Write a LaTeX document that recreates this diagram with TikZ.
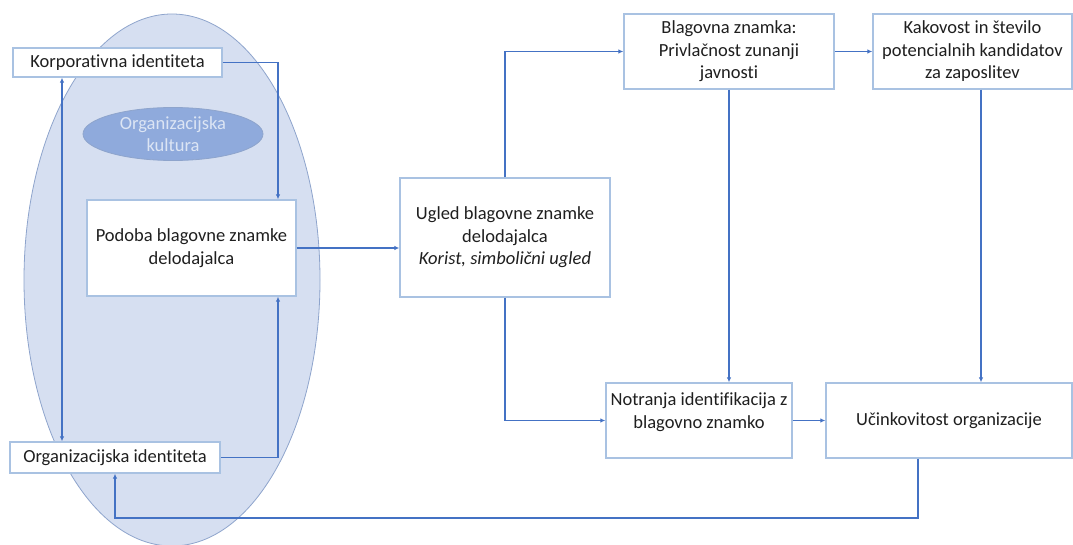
\documentclass[tikz,border=0pt]{standalone}
\usepackage{fontspec}
\setmainfont[Ligatures=NoCommon]{Carlito}
\usetikzlibrary{arrows.meta,shapes.geometric}
\definecolor{arrowblue}{HTML}{4472C4}
\definecolor{boxline}{HTML}{A9C2E2}
\definecolor{bigfill}{HTML}{D6DFF1}
\definecolor{bigline}{HTML}{8EA4CC}
\definecolor{smallfill}{HTML}{8FAADC}
\definecolor{smalltext}{HTML}{DCE5F4}
\definecolor{txt}{HTML}{1F1F1F}
\tikzset{
  x=1pt, y=-1pt,
  box/.style={draw=boxline, line width=1.3pt, fill=white, align=center, inner sep=0pt, text=txt,
    font=\fontsize{18.5}{22.5}\selectfont},
  conn/.style={draw=arrowblue, line width=1.6pt, -{Latex[length=5pt,width=4.5pt]}},
  dconn/.style={draw=arrowblue, line width=1.6pt, {Latex[length=5pt,width=4.5pt]}-{Latex[length=5pt,width=4.5pt]}},
}
\begin{document}
\begin{tikzpicture}
\useasboundingbox (0,0) rectangle (1073,545);
% big ellipse
\node[ellipse, draw=bigline, fill=bigfill, line width=0.8pt, minimum width=296pt, minimum height=532pt, inner sep=0pt] (bigell) at (172,280) {};
% small ellipse
\node[ellipse, draw=bigline, fill=smallfill, line width=0.8pt, minimum width=180pt, minimum height=53pt, inner sep=0pt,
  align=center, text=smalltext, font=\fontsize{18.5}{22}\selectfont] (kult) at (173,134) {Organizacijska\\kultura};
% boxes
\node[box, minimum width=209pt, minimum height=29pt] (korp) at (117.5,62.5) {Korporativna identiteta};
\node[box, minimum width=210pt, minimum height=31pt] (orgid) at (115,457.5) {Organizacijska identiteta};
\node[box, minimum width=209pt, minimum height=96pt] (podoba) at (191.5,248) {Podoba blagovne znamke\\delodajalca};
\node[box, minimum width=210pt, minimum height=119pt] (ugled) at (505,237.5) {Ugled blagovne znamke\\delodajalca\\\textit{Korist, simbolični ugled}};
\node[box, minimum width=210pt, minimum height=75pt] (blag) at (729,51.5) {Blagovna znamka:\\Privlačnost zunanji\\javnosti};
\node[box, minimum width=199pt, minimum height=75pt] (kak) at (972.5,51.5) {Kakovost in število\\potencialnih kandidatov\\za zaposlitev};
\node[box, minimum width=186pt, minimum height=75pt] (notr) at (699,420.5) {};
\node[text=txt, align=center, inner sep=0pt, font=\fontsize{18.5}{22.5}\selectfont] (notrtxt) at (699,412) {Notranja identifikacija z\\blagovno znamko};
\node[box, minimum width=246pt, minimum height=75pt] (uc) at (949,420.5) {Učinkovitost organizacije};
% connectors
\draw[conn] (korp.east) -| (278,0 |- podoba.north);
\draw[conn] (orgid.east) -| (278,0 |- podoba.south);
\draw[dconn] (62,0 |- korp.south) -- (62,0 |- orgid.north);
\draw[conn] (podoba.east) -- (ugled.west |- podoba.east);
\draw[conn] (ugled.north) |- (blag.west);
\draw[conn] (ugled.south) |- (notr.west);
\draw[conn] (blag.east) -- (kak.west);
\draw[conn] (blag.south) -- (notr.north -| blag.south);
\draw[conn] (981,0 |- kak.south) -- (981,0 |- uc.north);
\draw[conn] (notr.east) -- (uc.west);
\coordinate (fb) at (918,518);
\draw[conn] (918,0 |- uc.south) -- (fb) -| (115,0 |- orgid.south);
\end{tikzpicture}
\end{document}
